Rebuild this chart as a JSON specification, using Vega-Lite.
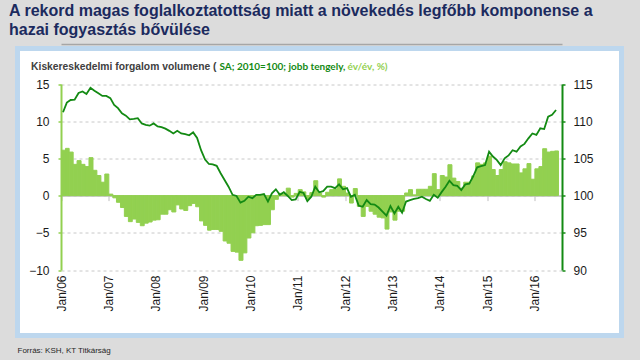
{
  "$schema": "https://vega.github.io/schema/vega-lite/v6.json",
  "autosize": "none",
  "width": 604,
  "height": 287,
  "padding": {"left": 17.5, "top": 48.5, "right": 18.5, "bottom": 24.5},
  "background": "#dcdcdc",
  "config": {
    "view": {"fill": "#ffffff", "stroke": "#bdd7ee", "strokeWidth": 5},
    "font": "Liberation Sans"
  },
  "title": {
    "text": ["A rekord magas foglalkoztatottság miatt a növekedés legfőbb komponense a", "hazai fogyasztás bővülése"],
    "anchor": "start", "frame": "group", "dx": -8.5, "offset": 6,
    "font": "Liberation Sans", "fontSize": 16, "fontWeight": "bold", "color": "#1b2a5e", "lineHeight": 19
  },
  "data": {
    "values": [
      {"d": "2006-01-01", "b": 6.1, "l": 111.2},
      {"d": "2006-02-01", "b": 6.35, "l": 112.5},
      {"d": "2006-03-01", "b": 5.85, "l": 112.85},
      {"d": "2006-04-01", "b": 4.2, "l": 112.9},
      {"d": "2006-05-01", "b": 4.7, "l": 113.8},
      {"d": "2006-06-01", "b": 4.2, "l": 114.0},
      {"d": "2006-07-01", "b": 3.9, "l": 113.65},
      {"d": "2006-08-01", "b": 5.1, "l": 114.5},
      {"d": "2006-09-01", "b": 3.4, "l": 114.1},
      {"d": "2006-10-01", "b": 2.7, "l": 113.75},
      {"d": "2006-11-01", "b": 1.8, "l": 113.4},
      {"d": "2006-12-01", "b": 2.9, "l": 113.4},
      {"d": "2007-01-01", "b": 0.2, "l": 113.1},
      {"d": "2007-02-01", "b": -0.3, "l": 112.2},
      {"d": "2007-03-01", "b": -0.9, "l": 111.75},
      {"d": "2007-04-01", "b": -1.6, "l": 111.05},
      {"d": "2007-05-01", "b": -2.8, "l": 110.75},
      {"d": "2007-06-01", "b": -3.5, "l": 110.25},
      {"d": "2007-07-01", "b": -3.15, "l": 110.3},
      {"d": "2007-08-01", "b": -3.6, "l": 110.4},
      {"d": "2007-09-01", "b": -4.05, "l": 109.7},
      {"d": "2007-10-01", "b": -3.7, "l": 109.5},
      {"d": "2007-11-01", "b": -3.55, "l": 109.4},
      {"d": "2007-12-01", "b": -3.3, "l": 109.7},
      {"d": "2008-01-01", "b": -3.25, "l": 109.3},
      {"d": "2008-02-01", "b": -2.5, "l": 109.2},
      {"d": "2008-03-01", "b": -2.5, "l": 109.0},
      {"d": "2008-04-01", "b": -1.9, "l": 108.7},
      {"d": "2008-05-01", "b": -2.2, "l": 108.35},
      {"d": "2008-06-01", "b": -1.25, "l": 108.7},
      {"d": "2008-07-01", "b": -1.8, "l": 108.35},
      {"d": "2008-08-01", "b": -2.0, "l": 108.25},
      {"d": "2008-09-01", "b": -1.35, "l": 108.1},
      {"d": "2008-10-01", "b": -1.05, "l": 108.5},
      {"d": "2008-11-01", "b": -1.5, "l": 107.75},
      {"d": "2008-12-01", "b": -3.4, "l": 106.1},
      {"d": "2009-01-01", "b": -4.0, "l": 104.85},
      {"d": "2009-02-01", "b": -4.65, "l": 104.25},
      {"d": "2009-03-01", "b": -4.55, "l": 104.2},
      {"d": "2009-04-01", "b": -4.55, "l": 104.0},
      {"d": "2009-05-01", "b": -4.8, "l": 103.0},
      {"d": "2009-06-01", "b": -6.1, "l": 102.1},
      {"d": "2009-07-01", "b": -6.4, "l": 101.2},
      {"d": "2009-08-01", "b": -7.5, "l": 100.1},
      {"d": "2009-09-01", "b": -7.6, "l": 99.95},
      {"d": "2009-10-01", "b": -8.7, "l": 99.05},
      {"d": "2009-11-01", "b": -7.7, "l": 99.3},
      {"d": "2009-12-01", "b": -5.7, "l": 99.85},
      {"d": "2010-01-01", "b": -5.0, "l": 99.65},
      {"d": "2010-02-01", "b": -4.05, "l": 100.1},
      {"d": "2010-03-01", "b": -4.0, "l": 100.1},
      {"d": "2010-04-01", "b": -3.9, "l": 100.2},
      {"d": "2010-05-01", "b": -3.9, "l": 99.2},
      {"d": "2010-06-01", "b": -1.9, "l": 100.3},
      {"d": "2010-07-01", "b": -0.5, "l": 100.85},
      {"d": "2010-08-01", "b": 0.3, "l": 100.1},
      {"d": "2010-09-01", "b": 0.2, "l": 100.45},
      {"d": "2010-10-01", "b": 1.0, "l": 99.95},
      {"d": "2010-11-01", "b": -0.2, "l": 99.4},
      {"d": "2010-12-01", "b": 0.3, "l": 99.5},
      {"d": "2011-01-01", "b": 0.8, "l": 100.5},
      {"d": "2011-02-01", "b": 0.5, "l": 100.35},
      {"d": "2011-03-01", "b": -0.4, "l": 99.25},
      {"d": "2011-04-01", "b": 0.4, "l": 99.85},
      {"d": "2011-05-01", "b": 2.0, "l": 101.2},
      {"d": "2011-06-01", "b": 0.35, "l": 100.45},
      {"d": "2011-07-01", "b": -0.2, "l": 100.6},
      {"d": "2011-08-01", "b": 0.45, "l": 101.2},
      {"d": "2011-09-01", "b": 0.8, "l": 101.2},
      {"d": "2011-10-01", "b": 0.9, "l": 101.0},
      {"d": "2011-11-01", "b": 2.25, "l": 101.5},
      {"d": "2011-12-01", "b": 1.25, "l": 100.85},
      {"d": "2012-01-01", "b": 0.35, "l": 101.0},
      {"d": "2012-02-01", "b": -1.0, "l": 99.85},
      {"d": "2012-03-01", "b": 0.95, "l": 100.1},
      {"d": "2012-04-01", "b": -1.45, "l": 98.65},
      {"d": "2012-05-01", "b": -2.8, "l": 98.5},
      {"d": "2012-06-01", "b": -1.45, "l": 99.4},
      {"d": "2012-07-01", "b": -2.1, "l": 98.85},
      {"d": "2012-08-01", "b": -2.5, "l": 98.8},
      {"d": "2012-09-01", "b": -2.9, "l": 98.4},
      {"d": "2012-10-01", "b": -3.0, "l": 97.85},
      {"d": "2012-11-01", "b": -4.5, "l": 97.3},
      {"d": "2012-12-01", "b": -2.2, "l": 98.6},
      {"d": "2013-01-01", "b": -3.3, "l": 97.6},
      {"d": "2013-02-01", "b": -2.1, "l": 98.5},
      {"d": "2013-03-01", "b": -2.1, "l": 97.7},
      {"d": "2013-04-01", "b": 0.35, "l": 99.2},
      {"d": "2013-05-01", "b": 0.8, "l": 99.4},
      {"d": "2013-06-01", "b": 0.1, "l": 99.55},
      {"d": "2013-07-01", "b": 0.85, "l": 99.65},
      {"d": "2013-08-01", "b": 0.85, "l": 99.85},
      {"d": "2013-09-01", "b": 0.85, "l": 99.55},
      {"d": "2013-10-01", "b": 1.25, "l": 99.3},
      {"d": "2013-11-01", "b": 2.95, "l": 100.1},
      {"d": "2013-12-01", "b": 0.8, "l": 99.7},
      {"d": "2014-01-01", "b": 2.7, "l": 100.5},
      {"d": "2014-02-01", "b": 2.5, "l": 101.2},
      {"d": "2014-03-01", "b": 4.15, "l": 102.0},
      {"d": "2014-04-01", "b": 2.35, "l": 101.4},
      {"d": "2014-05-01", "b": 1.9, "l": 101.3},
      {"d": "2014-06-01", "b": 1.0, "l": 100.75},
      {"d": "2014-07-01", "b": 1.8, "l": 101.5},
      {"d": "2014-08-01", "b": 1.8, "l": 101.6},
      {"d": "2014-09-01", "b": 2.65, "l": 102.6},
      {"d": "2014-10-01", "b": 4.4, "l": 103.8},
      {"d": "2014-11-01", "b": 4.2, "l": 103.95},
      {"d": "2014-12-01", "b": 4.4, "l": 104.1},
      {"d": "2015-01-01", "b": 5.3, "l": 105.9},
      {"d": "2015-02-01", "b": 3.5, "l": 105.25},
      {"d": "2015-03-01", "b": 2.7, "l": 104.8},
      {"d": "2015-04-01", "b": 3.5, "l": 104.1},
      {"d": "2015-05-01", "b": 4.55, "l": 105.0},
      {"d": "2015-06-01", "b": 4.4, "l": 105.4},
      {"d": "2015-07-01", "b": 4.25, "l": 106.1},
      {"d": "2015-08-01", "b": 4.25, "l": 105.9},
      {"d": "2015-09-01", "b": 3.05, "l": 106.6},
      {"d": "2015-10-01", "b": 3.6, "l": 106.95},
      {"d": "2015-11-01", "b": 4.3, "l": 107.7},
      {"d": "2015-12-01", "b": 2.2, "l": 108.35},
      {"d": "2016-01-01", "b": 3.6, "l": 108.15},
      {"d": "2016-02-01", "b": 3.9, "l": 109.05},
      {"d": "2016-03-01", "b": 6.3, "l": 108.95},
      {"d": "2016-04-01", "b": 5.85, "l": 110.6},
      {"d": "2016-05-01", "b": 5.95, "l": 110.85},
      {"d": "2016-06-01", "b": 6.0, "l": 111.5}
    ]
  },
  "resolve": {"scale": {"y": "independent"}, "axis": {"x": "independent"}},
  "layer": [
    {
      "mark": {"type": "bar", "color": "#92d050", "binSpacing": 0, "stroke": "#92d050", "strokeWidth": 1},
      "encoding": {
        "x": {
          "field": "d", "timeUnit": "utcyearmonth", "type": "temporal",
          "scale": {"type": "utc", "domain": [{"year": 2006, "month": 1, "date": 1, "utc": true}, {"year": 2016, "month": 8, "date": 1, "utc": true}], "range": [43.5, 544.5]},
          "axis": {
            "orient": "bottom", "offset": -65.5,
            "values": [
              {"year": 2006, "month": 1, "date": 1, "utc": true}, {"year": 2007, "month": 1, "date": 1, "utc": true},
              {"year": 2008, "month": 1, "date": 1, "utc": true}, {"year": 2009, "month": 1, "date": 1, "utc": true},
              {"year": 2010, "month": 1, "date": 1, "utc": true}, {"year": 2011, "month": 1, "date": 1, "utc": true},
              {"year": 2012, "month": 1, "date": 1, "utc": true}, {"year": 2013, "month": 1, "date": 1, "utc": true},
              {"year": 2014, "month": 1, "date": 1, "utc": true}, {"year": 2015, "month": 1, "date": 1, "utc": true},
              {"year": 2016, "month": 1, "date": 1, "utc": true}
            ],
            "format": "%b/%y", "labelAngle": -90, "domain": false, "ticks": false, "grid": false,
            "labelFont": "Liberation Sans", "labelFontSize": 12, "labelColor": "#1a1a1a", "labelPadding": 5,
            "title": "Forrás: KSH, KT Titkárság", "titleX": -0.5, "titleY": 82, "titleAlign": "left", "titleAngle": 0,
            "titleBaseline": "alphabetic", "titleFont": "Liberation Sans", "titleFontSize": 8, "titleFontWeight": "normal",
            "titleColor": "#262626", "titleLimit": 1000
          }
        },
        "y": {
          "field": "b", "type": "quantitative",
          "scale": {"domain": [-10, 15], "range": [221.5, 35.5], "nice": false, "zero": false},
          "axis": {
            "orient": "left", "offset": -43.5, "values": [-10, -5, 0, 5, 10, 15],
            "domainColor": "#92d050", "domainWidth": 2, "tickColor": "#92d050", "tickSize": 3, "tickWidth": 1.5,
            "labelFont": "Liberation Sans", "labelFontSize": 12, "labelColor": "#1a1a1a", "labelPadding": 9,
            "grid": true, "gridColor": "#c8c8c8", "gridDash": [3, 3], "gridWidth": 1,
            "title": "Kiskereskedelmi forgalom volumene (", "titleAngle": 0, "titleAlign": "left", "titleBaseline": "alphabetic",
            "titleX": -30.4, "titleY": 20.5, "titleFont": "Liberation Sans", "titleFontSize": 10.3, "titleFontWeight": "bold",
            "titleColor": "#404040", "titleLimit": 1000
          }
        }
      }
    },
    {
      "mark": {"type": "line", "color": "#138a13", "strokeWidth": 1.8},
      "encoding": {
        "x": {
          "field": "d", "timeUnit": "utcyearmonth", "type": "temporal", "bandPosition": 0.5,
          "scale": {"type": "utc", "domain": [{"year": 2006, "month": 1, "date": 1, "utc": true}, {"year": 2016, "month": 8, "date": 1, "utc": true}], "range": [43.5, 544.5]},
          "axis": {
            "orient": "bottom", "offset": -139.9,
            "values": [
              {"year": 2006, "month": 1, "date": 1, "utc": true}, {"year": 2007, "month": 1, "date": 1, "utc": true},
              {"year": 2008, "month": 1, "date": 1, "utc": true}, {"year": 2009, "month": 1, "date": 1, "utc": true},
              {"year": 2010, "month": 1, "date": 1, "utc": true}, {"year": 2011, "month": 1, "date": 1, "utc": true},
              {"year": 2012, "month": 1, "date": 1, "utc": true}, {"year": 2013, "month": 1, "date": 1, "utc": true},
              {"year": 2014, "month": 1, "date": 1, "utc": true}, {"year": 2015, "month": 1, "date": 1, "utc": true},
              {"year": 2016, "month": 1, "date": 1, "utc": true}
            ],
            "labels": false, "domain": true, "domainColor": "#bfbfbf", "domainWidth": 1.5,
            "ticks": true, "tickColor": "#bfbfbf", "tickSize": 5, "tickWidth": 1, "grid": false,
            "title": "év/év, %)", "titleX": 329.5, "titleY": -126.6, "titleAlign": "left", "titleAngle": 0,
            "titleBaseline": "alphabetic", "titleFont": "Lato", "titleFontSize": 10, "titleFontWeight": "bold",
            "titleColor": "#92d050", "titleLimit": 1000
          }
        },
        "y": {
          "field": "l", "type": "quantitative",
          "scale": {"domain": [90, 115], "range": [221.5, 35.5], "nice": false, "zero": false},
          "axis": {
            "orient": "right", "offset": -59.5, "values": [90, 95, 100, 105, 110, 115],
            "domainColor": "#138a13", "domainWidth": 2, "tickColor": "#138a13", "tickSize": 3, "tickWidth": 1.5,
            "labelFont": "Liberation Sans", "labelFontSize": 12, "labelColor": "#1a1a1a", "labelPadding": 8, "grid": false,
            "title": "SA; 2010=100; jobb tengely,", "titleAngle": 0, "titleAlign": "left", "titleBaseline": "alphabetic",
            "titleX": -343, "titleY": 20.5, "titleFont": "Lato", "titleFontSize": 10, "titleFontWeight": "bold",
            "titleColor": "#138a13", "titleLimit": 1000
          }
        }
      }
    },
    {
      "mark": {"type": "rule", "opacity": 0},
      "encoding": {
        "x": {
          "field": "d", "timeUnit": "utcyearmonth", "type": "temporal",
          "scale": {"type": "utc", "domain": [{"year": 2006, "month": 1, "date": 1, "utc": true}, {"year": 2016, "month": 8, "date": 1, "utc": true}], "range": [43.5, 544.5]},
          "axis": {"orient": "top", "offset": 4.5, "labels": false, "ticks": false, "grid": false, "domain": true,
                   "domainColor": "#a6a6a6", "domainWidth": 1.5, "title": null}
        }
      }
    }
  ]
}
